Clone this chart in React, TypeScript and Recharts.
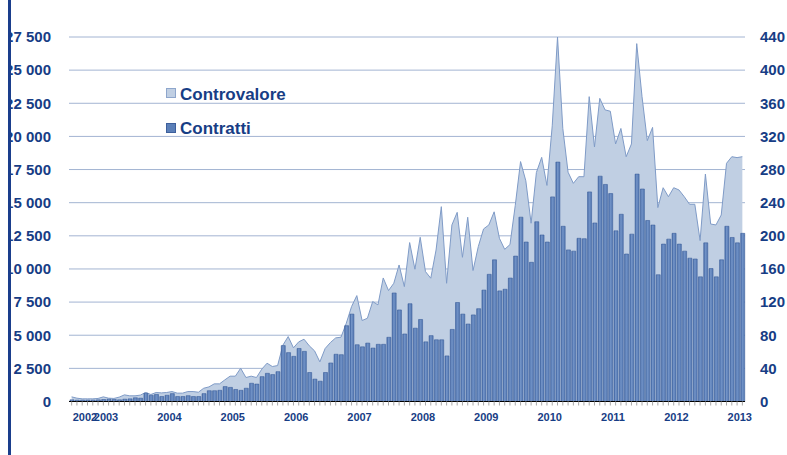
import React from "react";
import { ComposedChart, Area, Bar, XAxis, YAxis, CartesianGrid, Legend } from "recharts";

// Monthly categories: June 2002 .. January 2013
const startYear = 2002;
const startMonth = 6;
const monthCount = 128;
const months: string[] = Array.from({ length: monthCount }, (_, i) => {
  const t = startMonth - 1 + i;
  const y = startYear + Math.floor(t / 12);
  const m = (t % 12) + 1;
  return `${y}-${m < 10 ? "0" + m : m}`;
});

// Contratti (right axis)
const contratti = [
  2, 1.6, 1.6, 1.6, 1.6, 2, 2.4, 2.8, 2.4, 2,
  2.8, 3.2, 4.5, 4, 10, 7.5, 8.5, 6, 7.5, 9.5,
  6, 6, 7, 6, 6, 9.5, 13, 13, 13.5, 18,
  17, 14.5, 13.5, 16, 22, 21, 30, 34, 32.5, 36,
  67.5, 59, 54.5, 64, 60.5, 35, 27, 24.5, 35, 46.5,
  57, 56.5, 91.5, 105.5, 68.5, 66, 70.5, 64.5, 69, 69,
  77.5, 131, 110.5, 81.5, 118, 88.5, 99, 72, 79.5, 74.5,
  74.5, 55, 87, 119.5, 105.5, 93.5, 104.5, 112, 134.5, 153.5,
  171, 133.5, 135.5, 149, 175.5, 222.5, 192.5, 168, 217, 201,
  192.5, 247, 289, 211.5, 183, 181.5, 197, 196.5, 253, 215.5,
  272, 262, 251, 206, 226, 178, 202, 274.5, 256.5, 218.5,
  213, 153, 190, 196, 203, 190, 181.5, 173, 172, 150.5,
  191.5, 160.5, 150.5, 171, 211.5, 198, 191.5, 203,
];

// Controvalore (left axis)
const controvalore = [
  350, 250, 200, 200, 200, 230, 350, 250, 230, 330,
  500, 430, 430, 480, 680, 530, 680, 650, 680, 750,
  630, 630, 750, 750, 700, 1000, 1100, 1330, 1330, 1630,
  1910, 1910, 2510, 1810, 1910, 1810, 2440, 2890, 2640, 2710,
  4250, 4900, 4050, 4500, 4700, 4200, 3820, 2990, 4000, 4450,
  4800, 4850, 5900, 7160, 7990, 6110, 6280, 7540, 7290, 9320,
  8370, 8920, 10300, 8670, 11990, 9980, 12390, 9800, 9300, 11430,
  14700, 8920, 13320, 14270, 10880, 13900, 9880, 11690, 13020, 13320,
  14310, 12310, 11480, 11840, 14800, 18100, 16650, 13450, 17280, 18420,
  16300, 20800, 27500, 20600, 17300, 16460, 16960, 16960, 23000, 19200,
  22870, 22000, 21900, 19430, 20600, 18470, 19430, 27000, 23000, 19680,
  20680, 14630, 16130, 15450, 16130, 15960, 15450, 14880, 14880, 12140,
  17160, 13390, 13320, 14070, 17970, 18470, 18400, 18470,
];

const leftTicks = [0, 2500, 5000, 7500, 10000, 12500, 15000, 17500, 20000, 22500, 25000, 27500];
const rightTicks = [0, 40, 80, 120, 160, 200, 240, 280, 320, 360, 400, 440];

const yearTickMonths = ["2002-09", "2003-01", "2004-01", "2005-01", "2006-01", "2007-01", "2008-01", "2009-01", "2010-01", "2011-01", "2012-01", "2013-01"];
const yearTickLabels = ["2002", "2003", "2004", "2005", "2006", "2007", "2008", "2009", "2010", "2011", "2012", "2013"];

const data = months.map((m, i) => ({ m, c: contratti[i], v: controvalore[i] }));

const NAVY = "#173d85";
const FONT = "'Liberation Sans', Arial, sans-serif";

const fmtLeft = (v: number) => {
  if (v === 0) return "0";
  const th = Math.floor(v / 1000);
  const rest = v % 1000;
  return `${th} ${String(rest).padStart(3, "0")}`;
};

const YearTick = (props: any) => {
  const { x, y, payload } = props;
  const idx = yearTickMonths.indexOf(payload.value);
  if (idx < 0) return null;
  return (
    <text
      x={x - 2.6}
      y={y}
      dy={13.5}
      textAnchor="middle"
      fill={NAVY}
      fontSize={11}
      fontWeight="bold"
      fontFamily={FONT}
    >
      {yearTickLabels[idx]}
    </text>
  );
};

const LegendContent = () => (
  <svg width={150} height={62} style={{ display: "block" }}>
    <rect x={6.5} y={8.5} width={9} height={9} fill="#c0cfe3" stroke="#8ea6cc" strokeWidth={1} />
    <text x={20} y={19.5} fill={NAVY} fontSize={17} fontWeight="bold" fontFamily={FONT}>
      Controvalore
    </text>
    <rect x={6.5} y={43.5} width={9} height={9} fill="#5b7fb8" stroke="#3d5f9c" strokeWidth={1} />
    <text x={20} y={54} fill={NAVY} fontSize={17} fontWeight="bold" fontFamily={FONT}>
      Contratti
    </text>
  </svg>
);

export default function App() {
  return (
    <div style={{ position: "absolute", left: 0, top: 0, width: 787, height: 455, background: "#fff" }}>
      <div style={{ position: "absolute", left: 8, top: 0, width: 3, height: 455, background: "#1a3e8c" }} />
      <div style={{ position: "absolute", left: 11, top: 0, width: 776, height: 455, overflow: "hidden" }}>
        <div style={{ position: "relative", left: -11, width: 787, height: 455 }}>
          <ComposedChart
            width={787}
            height={455}
            data={data}
            margin={{ top: 37, right: 0, left: 0, bottom: 0 }}
            barCategoryGap={0}
          >
            <defs>
              <linearGradient id="barGrad" x1="0" y1="0" x2="1" y2="0">
                <stop offset="0%" stopColor="#4469a6" />
                <stop offset="40%" stopColor="#7293c7" />
                <stop offset="100%" stopColor="#5478b2" />
              </linearGradient>
            </defs>
            <CartesianGrid yAxisId="left" vertical={false} stroke="#a3b4d2" strokeWidth={1} />
            <XAxis
              dataKey="m"
              interval={0}
              height={53.5}
              tickSize={4}
              tickMargin={2}
              tickLine={{ stroke: "#a8a8a8" }}
              axisLine={{ stroke: "#000", strokeWidth: 1 }}
              tick={<YearTick />}
            />
            <YAxis
              yAxisId="left"
              orientation="left"
              width={69}
              domain={[0, 27500]}
              ticks={leftTicks}
              interval={0}
              axisLine={false}
              tickLine={false}
              tickSize={0}
              tickMargin={18}
              tickFormatter={fmtLeft}
              tick={{ fill: NAVY, fontSize: 15, fontWeight: "bold", fontFamily: FONT }}
            />
            <YAxis
              yAxisId="right"
              orientation="right"
              width={42}
              domain={[0, 440]}
              ticks={rightTicks}
              interval={0}
              axisLine={false}
              tickLine={false}
              tickSize={0}
              tickMargin={15}
              tick={{ fill: NAVY, fontSize: 15, fontWeight: "bold", fontFamily: FONT }}
            />
            <Legend
              layout="horizontal"
              verticalAlign="middle"
              align="center"
              wrapperStyle={{ left: 160, top: 80, width: 150, height: 62 }}
              content={() => <LegendContent />}
            />
            <Area
              yAxisId="left"
              dataKey="v"
              name="Controvalore"
              type="linear"
              fill="#c0cfe3"
              fillOpacity={1}
              stroke="#7f9bc7"
              strokeWidth={1}
              dot={false}
              activeDot={false}
              isAnimationActive={false}
            />
            <Bar
              yAxisId="right"
              dataKey="c"
              name="Contratti"
              barSize={4}
              fill="url(#barGrad)"
              stroke="#3d5f9c"
              strokeWidth={0.6}
              isAnimationActive={false}
            />
          </ComposedChart>
        </div>
      </div>
    </div>
  );
}
